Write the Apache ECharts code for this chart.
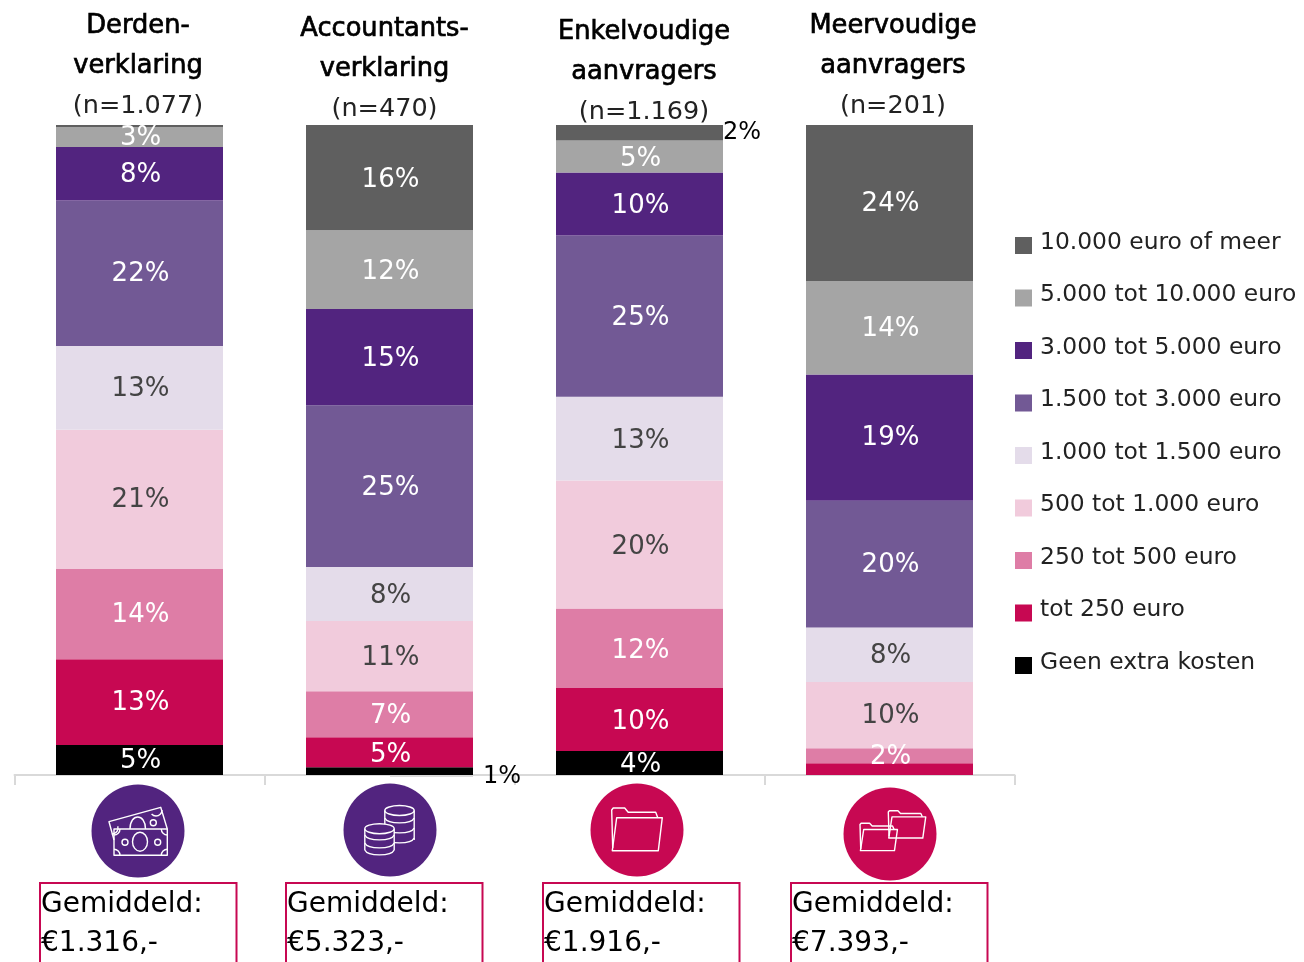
<!DOCTYPE html>
<html>
<head>
<meta charset="utf-8">
<title>Extra kosten</title>
<style>
html, body { margin: 0; padding: 0; background: #fff; overflow: hidden; }
#chart { width: 1304px; height: 962px; }
</style>
<script src="https://cdn.jsdelivr.net/npm/echarts@6/dist/echarts.min.js"></script>
</head>
<body>
<div id="chart"></div>
<script>
var categories = ['Derdenverklaring', 'Accountantsverklaring', 'Enkelvoudige aanvragers', 'Meervoudige aanvragers']
var titles = ['Derden-\nverklaring', 'Accountants-\nverklaring', 'Enkelvoudige\naanvragers', 'Meervoudige\naanvragers']
var counts = ['(n=1.077)', '(n=470)', '(n=1.169)', '(n=201)']
var averages = ['€1.316,-', '€5.323,-', '€1.916,-', '€7.393,-']

// percentages, bottom of the stack first
var geenExtra = [4.6, 1.2, 3.7, 0]
var tot250 = [13.2, 4.6, 9.7, 1.8]
var tot500 = [13.9, 7.1, 12.2, 2.3]
var tot1000 = [21.4, 10.8, 19.7, 10.2]
var tot1500 = [12.9, 8.3, 12.9, 8.4]
var tot3000 = [22.4, 24.9, 24.8, 19.5]
var tot5000 = [8.2, 14.8, 9.7, 19.4]
var tot10000 = [3.1, 12.1, 4.9, 14.4]
var meer = [0.3, 16.2, 2.4, 24]

var seriesNames = ['Geen extra kosten', 'tot 250 euro', '250 tot 500 euro', '500 tot 1.000 euro', '1.000 tot 1.500 euro', '1.500 tot 3.000 euro', '3.000 tot 5.000 euro', '5.000 tot 10.000 euro', '10.000 euro of meer']
var seriesValues = [geenExtra, tot250, tot500, tot1000, tot1500, tot3000, tot5000, tot10000, meer]
var seriesColors = ['#000000', '#c70852', '#de7da6', '#f1cbdc', '#e4dcea', '#725995', '#52247f', '#a5a5a5', '#5f5f5f']
var darkLabels = ['500 tot 1.000 euro', '1.000 tot 1.500 euro']

var FONT = '"DejaVu Sans", sans-serif'
var PURPLE = '#52247f'
var CRIMSON = '#c70852'
var labelDrop = [1, 2.5, 2.5, 1] // labels staan per kolom iets anders

// vierkantje onderin een hoger vak, zodat de tekst er iets boven staat
var LEGEND_ICON = 'path://M0 0L0 0ZM0 6H17V23H0Z'

function barItem (name, value, i) {
  var item = {value: value, label: {offset: [1, labelDrop[i]]}}
  if (value === 0 || (name === '10.000 euro of meer' && i === 0) || (name === 'tot 250 euro' && i === 3)) {
    item.label = {show: false} // te klein voor een label
  }
  if (name === 'Geen extra kosten' && i === 1) { // 1% staat naast de balk
    item.label = {position: 'right', distance: 10, offset: [0, 6], color: '#000', fontSize: 24}
  }
  if (name === '10.000 euro of meer' && i === 2) { // 2% staat naast de balk
    item.label = {position: 'right', distance: 0, offset: [0, 0], color: '#000', fontSize: 24}
  }
  return item
}

var series = seriesNames.map(function (name, s) {
  return {
    name: name,
    type: 'bar',
    stack: 'total',
    barWidth: 167,
    data: seriesValues[s].map(function (v, i) { return barItem(name, v, i) }),
    itemStyle: {color: seriesColors[s]},
    label: {
      show: true,
      position: 'inside',
      fontFamily: FONT,
      fontSize: 26,
      color: darkLabels.indexOf(name) > -1 ? '#444' : '#fff',
      formatter: function (p) { return Math.round(p.value) + '%' }
    }
  }
})

// titels boven de balken, per kolom iets verschoven zoals in het origineel
var titleShift = [
  {padding: [0, 3, 6, 0]},
  {padding: [0, 10, 3, 0]},
  {padding: [0, 0, 0, 9]},
  {padding: [0, 0, 6, 7]}
]

function white (extra) {
  return Object.assign({style: {stroke: '#fff', fill: 'none', lineWidth: 1.4, lineJoin: 'round'}, silent: true}, extra)
}
function ring (cx, cy, r) { return white({type: 'circle', shape: {cx: cx, cy: cy, r: r}}) }
function oval (cx, cy, rx, ry) { return white({type: 'ellipse', shape: {cx: cx, cy: cy, rx: rx, ry: ry}}) }
function line (a, b, c, d) { return white({type: 'line', shape: {x1: a, y1: b, x2: c, y2: d}}) }
function sag (x0, x1, y, h) { // onderrand van een munt
  return white({type: 'bezierCurve', shape: {x1: x0, y1: y, x2: x1, y2: y, cpx1: x0 + 3, cpy1: y + h, cpx2: x1 - 3, cpy2: y + h}})
}
function disc (cx, cy, color) {
  return {type: 'circle', silent: true, shape: {cx: cx, cy: cy, r: 46.5}, style: {fill: color}}
}

function moneyIcon () {
  return [
    disc(138, 831, PURPLE),
    white({type: 'polyline', shape: {points: [[114, 840], [109, 821.7], [160.7, 807.3], [167.3, 829]]}}),
    white({type: 'bezierCurve', shape: {x1: 130, y1: 829, x2: 145.5, y2: 829, cpx1: 130, cpy1: 813, cpx2: 145.5, cpy2: 813}}),
    ring(153.3, 822.7, 3),
    white({type: 'arc', shape: {cx: 112, cy: 828, r: 6, startAngle: -0.3, endAngle: 1.6}}),
    white({type: 'arc', shape: {cx: 156, cy: 810, r: 6, startAngle: 0, endAngle: 2.4}}),
    white({type: 'rect', shape: {x: 114, y: 829, width: 53.3, height: 26.3}}),
    oval(140, 841.7, 7.5, 9.5),
    ring(125, 842.3, 3),
    ring(157.7, 842.3, 3),
    white({type: 'arc', shape: {cx: 114, cy: 829, r: 6, startAngle: 0, endAngle: 1.57}}),
    white({type: 'arc', shape: {cx: 167.3, cy: 829, r: 6, startAngle: 1.57, endAngle: 3.14}}),
    white({type: 'arc', shape: {cx: 114, cy: 855.3, r: 6, startAngle: -1.57, endAngle: 0}}),
    white({type: 'arc', shape: {cx: 167.3, cy: 855.3, r: 6, startAngle: 3.14, endAngle: 4.71}})
  ]
}

function coinsIcon () {
  var els = [disc(390, 830, PURPLE)]
  // rechter stapel
  els.push(oval(399.5, 810.5, 14.7, 5))
  els.push(line(384.8, 810.5, 384.8, 838), line(414.2, 810.5, 414.2, 840))
  ;[818, 828, 838].forEach(function (y) { els.push(sag(384.8, 414.2, y, 6.5)) })
  // linker stapel, dekt de rechter af
  els.push({type: 'rect', silent: true, shape: {x: 365, y: 829, width: 29, height: 25}, style: {fill: PURPLE}})
  els.push({type: 'ellipse', silent: true, shape: {cx: 379.5, cy: 829, rx: 14.7, ry: 5}, style: {fill: PURPLE}})
  els.push(oval(379.5, 828.7, 14.7, 5))
  els.push(line(364.8, 828.7, 364.8, 850), line(394.2, 828.7, 394.2, 850))
  ;[835, 843, 850].forEach(function (y) { els.push(sag(364.8, 394.2, y, 6.5)) })
  return els
}

function folder (x, y, sx, sy) {
  function pts (arr) { return arr.map(function (p) { return [x + p[0] * sx, y + p[1] * sy] }) }
  return [
    white({type: 'polyline', shape: {points: pts([[1, 40], [0, 2], [1.5, 0], [13, 0], [16.5, 4.3], [44, 4.3], [46, 9.5]])}}),
    white({type: 'polygon', shape: {points: pts([[5, 9.7], [50.6, 9.7], [46.6, 42.7], [0.6, 42.7]])}})
  ]
}

var decor = []
decor = decor.concat(moneyIcon(), coinsIcon())
decor.push(disc(637, 830, CRIMSON))
decor = decor.concat(folder(611.7, 808, 1, 1))
decor.push(disc(890, 834, CRIMSON))
decor = decor.concat(folder(860, 823.3, 0.74, 0.64), folder(888.3, 810.7, 0.74, 0.64))

// lijntje naar het 1%-label
decor.push({type: 'line', silent: true, shape: {x1: 390, y1: 776, x2: 473, y2: 776}, style: {stroke: '#b5b5b5', lineWidth: 1}})

var boxLeft = [40, 286, 543, 791]
boxLeft.forEach(function (x, i) {
  decor.push({type: 'rect', silent: true, shape: {x: x, y: 883, width: 196.5, height: 120}, style: {stroke: CRIMSON, fill: 'none', lineWidth: 2}})
  decor.push({type: 'text', silent: true, style: {text: 'Gemiddeld:', x: x + 1, y: 905, verticalAlign: 'middle', fontFamily: FONT, fontSize: 28, fill: '#000'}})
  decor.push({type: 'text', silent: true, style: {text: averages[i], x: x + 1, y: 944, verticalAlign: 'middle', fontFamily: FONT, fontSize: 28, fill: '#000'}})
})

var chart = echarts.init(document.getElementById('chart'))
chart.setOption({
  animation: false,
  backgroundColor: '#fff',
  grid: {left: 14.5, width: 1000, top: 125, height: 650},
  legend: {
    left: 1015,
    top: 231,
    padding: 0,
    orient: 'vertical',
    icon: LEGEND_ICON,
    itemWidth: 17,
    itemHeight: 23,
    itemGap: 29.5,
    selectedMode: false,
    data: seriesNames.slice().reverse(),
    textStyle: {fontFamily: FONT, fontSize: 23.4, color: '#222', padding: [0, 0, 0, 3]}
  },
  xAxis: [
    {
      type: 'category',
      data: categories,
      axisLine: {lineStyle: {color: '#d9d9d9', width: 2}},
      axisTick: {show: true, interval: 0, length: 10, lineStyle: {color: '#d9d9d9', width: 2}},
      axisLabel: {show: false}
    },
    {
      type: 'category',
      position: 'top',
      data: titles.map(function (t, i) {
        return {
          value: '{t|' + t.replace('\n', '}\n{t|') + '}\n{n|' + counts[i] + '}',
          textStyle: titleShift[i]
        }
      }),
      axisLine: {show: false},
      axisTick: {show: false},
      axisLabel: {
        interval: 0,
        margin: -7.5,
        rich: {
          t: {fontFamily: FONT, fontSize: 25.7, lineHeight: 40, color: '#000', textBorderColor: '#000', textBorderWidth: 0.7},
          n: {fontFamily: FONT, fontSize: 25.5, lineHeight: 40, color: '#222'}
        }
      }
    }
  ],
  yAxis: {type: 'value', min: 0, max: 100, show: false},
  series: series,
  graphic: {elements: decor}
})
</script>
</body>
</html>
